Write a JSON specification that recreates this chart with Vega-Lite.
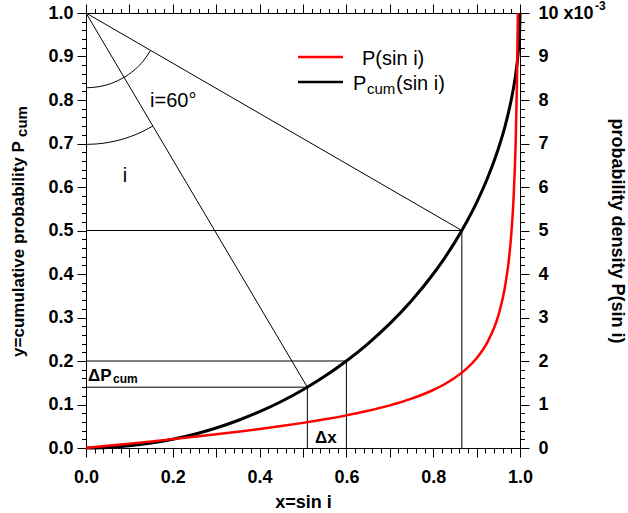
{
  "$schema": "https://vega.github.io/schema/vega-lite/v6.json",
  "width": 434,
  "height": 435,
  "autosize": {"type": "none"},
  "padding": {"left": 86, "top": 13, "right": 108, "bottom": 65},
  "config": {
    "view": {"stroke": null},
    "font": "Liberation Sans",
    "axis": {
      "grid": false,
      "domainColor": "#000000",
      "tickColor": "#000000",
      "labelColor": "#000000",
      "titleColor": "#000000",
      "labelFont": "Liberation Sans",
      "labelFontSize": 18,
      "labelFontWeight": "bold",
      "titleFont": "Liberation Sans",
      "titleFontSize": 18,
      "titleFontWeight": "bold",
      "domainWidth": 1,
      "tickWidth": 1,
      "labelFlush": false,
      "labelOverlap": false
    }
  },
  "datasets": {
    "cum": [
      {"x": 0, "c": 0}, {"x": 0.05, "c": 0.00125}, {"x": 0.1, "c": 0.00501}, {"x": 0.15, "c": 0.01131},
      {"x": 0.2, "c": 0.0202}, {"x": 0.25, "c": 0.03175}, {"x": 0.3, "c": 0.04606}, {"x": 0.35, "c": 0.06325},
      {"x": 0.4, "c": 0.08348}, {"x": 0.45, "c": 0.10697}, {"x": 0.5, "c": 0.13397}, {"x": 0.55, "c": 0.16484},
      {"x": 0.6, "c": 0.2}, {"x": 0.65, "c": 0.24007}, {"x": 0.7, "c": 0.28586}, {"x": 0.75, "c": 0.33856},
      {"x": 0.8, "c": 0.4}, {"x": 0.825, "c": 0.43487}, {"x": 0.85, "c": 0.47322}, {"x": 0.875, "c": 0.51588},
      {"x": 0.9, "c": 0.56411}, {"x": 0.925, "c": 0.62003}, {"x": 0.95, "c": 0.68775}, {"x": 0.965, "c": 0.73775},
      {"x": 0.98, "c": 0.801}, {"x": 0.99, "c": 0.85893}, {"x": 0.995, "c": 0.90013}, {"x": 0.998, "c": 0.93679},
      {"x": 0.9995, "c": 0.96838}, {"x": 1, "c": 1}
    ],
    "red": [
      {"x": 0, "p": 0}, {"x": 0.05, "p": 0.05006}, {"x": 0.1, "p": 0.1005}, {"x": 0.15, "p": 0.15172},
      {"x": 0.2, "p": 0.20412}, {"x": 0.25, "p": 0.2582}, {"x": 0.3, "p": 0.31449}, {"x": 0.35, "p": 0.37363},
      {"x": 0.4, "p": 0.43644}, {"x": 0.45, "p": 0.5039}, {"x": 0.5, "p": 0.57735}, {"x": 0.55, "p": 0.65855},
      {"x": 0.6, "p": 0.75}, {"x": 0.65, "p": 0.85534}, {"x": 0.7, "p": 0.9802}, {"x": 0.75, "p": 1.13389},
      {"x": 0.8, "p": 1.33333}, {"x": 0.825, "p": 1.45984}, {"x": 0.85, "p": 1.61358}, {"x": 0.875, "p": 1.8074},
      {"x": 0.9, "p": 2.06474}, {"x": 0.925, "p": 2.43442}, {"x": 0.95, "p": 3.04243}, {"x": 0.965, "p": 3.6797},
      {"x": 0.975, "p": 4.38784}, {"x": 0.98, "p": 4.9247}, {"x": 0.985, "p": 5.70836}, {"x": 0.99, "p": 7.01779},
      {"x": 0.993, "p": 8.40712}, {"x": 0.995, "p": 9.96246}, {"x": 0.99504, "p": 10.0}
    ],
    "segs": [
      {"x1": 0, "y1": 1, "x2": 0.866, "y2": 0.5},
      {"x1": 0, "y1": 1, "x2": 0.51, "y2": 0.1398},
      {"x1": 0, "y1": 0.5, "x2": 0.866, "y2": 0.5},
      {"x1": 0, "y1": 0.2, "x2": 0.6, "y2": 0.2},
      {"x1": 0, "y1": 0.1398, "x2": 0.51, "y2": 0.1398},
      {"x1": 0.51, "y1": 0, "x2": 0.51, "y2": 0.1398},
      {"x1": 0.6, "y1": 0, "x2": 0.6, "y2": 0.2},
      {"x1": 0.866, "y1": 0, "x2": 0.866, "y2": 0.5}
    ],
    "arcs": [
      {"arc": "a", "x": 0, "y": 0.828}, {"arc": "a", "x": 0.02986, "y": 0.83061}, {"arc": "a", "x": 0.05882, "y": 0.83837},
      {"arc": "a", "x": 0.086, "y": 0.85105}, {"arc": "a", "x": 0.11056, "y": 0.86825}, {"arc": "a", "x": 0.13175, "y": 0.88944},
      {"arc": "a", "x": 0.14895, "y": 0.914},
      {"arc": "b", "x": 0, "y": 0.698}, {"arc": "b", "x": 0.02632, "y": 0.69915}, {"arc": "b", "x": 0.05244, "y": 0.70259},
      {"arc": "b", "x": 0.07816, "y": 0.70829}, {"arc": "b", "x": 0.10329, "y": 0.71621}, {"arc": "b", "x": 0.12763, "y": 0.72629},
      {"arc": "b", "x": 0.15418, "y": 0.74033}
    ],
    "txt20": [
      {"x": 0.1475, "y": 0.784, "t": "i=60°"},
      {"x": 0.0848, "y": 0.6115, "t": "i"},
      {"x": 0.636, "y": 0.8805, "t": "P(sin i)"},
      {"x": 0.6152, "y": 0.823, "t": "P"},
      {"x": 0.7143, "y": 0.823, "t": "(sin i)"}
    ],
    "txt14": [{"x": 0.6475, "y": 0.8138, "t": "cum"}],
    "bold17": [
      {"x": 0.0046, "y": 0.154, "t": "ΔP"},
      {"x": 0.5276, "y": 0.0115, "t": "Δx"}
    ],
    "bold12": [{"x": 0.0622, "y": 0.1487, "t": "cum"}],
    "sup": [{"x": 1, "y": 10, "t": "-3"}],
    "leg": [
      {"x1": 0.4885, "x2": 0.5922, "y": 0.8989, "s": "P"},
      {"x1": 0.4885, "x2": 0.5922, "y": 0.8414, "s": "Pcum"}
    ]
  },
  "resolve": {
    "scale": {"x": "shared", "y": "independent"},
    "axis": {"x": "independent", "y": "independent"}
  },
  "layer": [
    {
      "data": {"name": "cum"},
      "mark": {"type": "line", "color": "#000000", "strokeWidth": 3, "interpolate": "monotone"},
      "encoding": {
        "x": {"field": "x", "type": "quantitative", "scale": {"domain": [0, 1], "nice": false, "zero": false},
          "axis": {"orient": "bottom", "values": [0, 0.1, 0.2, 0.3, 0.4, 0.5, 0.6, 0.7, 0.8, 0.9, 1], "format": ".1f",
            "labelExpr": "round(datum.value*10) % 2 == 0 ? datum.label : ''",
            "tickSize": 9, "labelPadding": 11, "title": "x=sin i", "titlePadding": 7}},
        "y": {"field": "c", "type": "quantitative", "scale": {"domain": [0, 1], "nice": false, "zero": false},
          "axis": {"orient": "left", "values": [0, 0.1, 0.2, 0.3, 0.4, 0.5, 0.6, 0.7, 0.8, 0.9, 1], "format": ".1f",
            "tickSize": 9, "labelPadding": 4, "title": "y=cumulative probability P", "titleFontSize": 17,
            "titleX": -63, "titleY": 235.5, "titleBaseline": "alphabetic", "titleAngle": 270, "titleAlign": "center"}}
      }
    },
    {
      "data": {"name": "segs"},
      "mark": {"type": "rule", "color": "#000000", "strokeWidth": 1},
      "encoding": {
        "x": {"field": "x1", "type": "quantitative", "scale": {"domain": [0, 1], "nice": false, "zero": false},
          "axis": {"orient": "bottom", "values": [0,0.02,0.04,0.06,0.08,0.1,0.12,0.14,0.16,0.18,0.2,0.22,0.24,0.26,0.28,0.3,0.32,0.34,0.36,0.38,0.4,0.42,0.44,0.46,0.48,0.5,0.52,0.54,0.56,0.58,0.6,0.62,0.64,0.66,0.68,0.7,0.72,0.74,0.76,0.78,0.8,0.82,0.84,0.86,0.88,0.9,0.92,0.94,0.96,0.98,1],
            "tickSize": 5, "labels": false, "domain": false, "title": null}},
        "x2": {"field": "x2"},
        "y": {"field": "y1", "type": "quantitative", "scale": {"domain": [0, 1], "nice": false, "zero": false},
          "axis": {"orient": "left", "values": [0,0.02,0.04,0.06,0.08,0.1,0.12,0.14,0.16,0.18,0.2,0.22,0.24,0.26,0.28,0.3,0.32,0.34,0.36,0.38,0.4,0.42,0.44,0.46,0.48,0.5,0.52,0.54,0.56,0.58,0.6,0.62,0.64,0.66,0.68,0.7,0.72,0.74,0.76,0.78,0.8,0.82,0.84,0.86,0.88,0.9,0.92,0.94,0.96,0.98,1],
            "tickSize": 4.5, "labels": false, "domain": false, "title": "cum", "titleFontSize": 15,
            "titleX": -60, "titleY": 108, "titleBaseline": "alphabetic", "titleAngle": 270, "titleAlign": "center"}},
        "y2": {"field": "y2"}
      }
    },
    {
      "data": {"name": "arcs"},
      "mark": {"type": "line", "color": "#000000", "strokeWidth": 1, "interpolate": "monotone"},
      "encoding": {
        "x": {"field": "x", "type": "quantitative", "scale": {"domain": [0, 1], "nice": false, "zero": false},
          "axis": {"orient": "top", "values": [0, 0.1, 0.2, 0.3, 0.4, 0.5, 0.6, 0.7, 0.8, 0.9, 1], "tickSize": 9, "labels": false, "title": null}},
        "y": {"field": "y", "type": "quantitative", "scale": {"domain": [0, 1], "nice": false, "zero": false}, "axis": null},
        "detail": {"field": "arc", "type": "nominal"}
      }
    },
    {
      "data": {"name": "txt20"},
      "mark": {"type": "text", "font": "Liberation Sans", "fontSize": 20, "align": "left", "baseline": "alphabetic", "color": "#000000"},
      "encoding": {
        "x": {"field": "x", "type": "quantitative", "scale": {"domain": [0, 1], "nice": false, "zero": false},
          "axis": {"orient": "top", "values": [0,0.02,0.04,0.06,0.08,0.1,0.12,0.14,0.16,0.18,0.2,0.22,0.24,0.26,0.28,0.3,0.32,0.34,0.36,0.38,0.4,0.42,0.44,0.46,0.48,0.5,0.52,0.54,0.56,0.58,0.6,0.62,0.64,0.66,0.68,0.7,0.72,0.74,0.76,0.78,0.8,0.82,0.84,0.86,0.88,0.9,0.92,0.94,0.96,0.98,1],
            "tickSize": 4.5, "labels": false, "domain": false, "title": null}},
        "y": {"field": "y", "type": "quantitative", "scale": {"domain": [0, 1], "nice": false, "zero": false}, "axis": null},
        "text": {"field": "t"}
      }
    },
    {
      "data": {"name": "red"},
      "mark": {"type": "line", "color": "#ff0000", "strokeWidth": 2.5, "interpolate": "monotone"},
      "encoding": {
        "x": {"field": "x", "type": "quantitative", "scale": {"domain": [0, 1], "nice": false, "zero": false}, "axis": null},
        "y": {"field": "p", "type": "quantitative", "scale": {"domain": [0, 10], "nice": false, "zero": false},
          "axis": {"orient": "right", "values": [0, 1, 2, 3, 4, 5, 6, 7, 8, 9, 10], "format": "d",
            "labelExpr": "datum.value == 10 ? '10 x10' : datum.label",
            "tickSize": 9, "labelPadding": 9, "title": "probability density P(sin i)", "titlePadding": 14}}
      }
    },
    {
      "data": {"name": "sup"},
      "mark": {"type": "text", "font": "Liberation Sans", "fontSize": 12, "fontWeight": "bold", "align": "left", "baseline": "middle", "dx": 75, "dy": -7, "color": "#000000"},
      "encoding": {
        "x": {"field": "x", "type": "quantitative", "scale": {"domain": [0, 1], "nice": false, "zero": false}, "axis": null},
        "y": {"field": "y", "type": "quantitative", "scale": {"domain": [0, 10], "nice": false, "zero": false},
          "axis": {"orient": "right", "values": [0,0.2,0.4,0.6,0.8,1,1.2,1.4,1.6,1.8,2,2.2,2.4,2.6,2.8,3,3.2,3.4,3.6,3.8,4,4.2,4.4,4.6,4.8,5,5.2,5.4,5.6,5.8,6,6.2,6.4,6.6,6.8,7,7.2,7.4,7.6,7.8,8,8.2,8.4,8.6,8.8,9,9.2,9.4,9.6,9.8,10],
            "tickSize": 4.5, "labels": false, "domain": false, "title": null}},
        "text": {"field": "t"}
      }
    },
    {
      "data": {"name": "leg"},
      "mark": {"type": "rule", "strokeWidth": 2.5},
      "encoding": {
        "x": {"field": "x1", "type": "quantitative", "scale": {"domain": [0, 1], "nice": false, "zero": false}, "axis": null},
        "x2": {"field": "x2"},
        "y": {"field": "y", "type": "quantitative", "scale": {"domain": [0, 1], "nice": false, "zero": false}, "axis": null},
        "color": {"field": "s", "type": "nominal", "scale": {"domain": ["P", "Pcum"], "range": ["#ff0000", "#000000"]}, "legend": null}
      }
    },
    {
      "data": {"name": "txt14"},
      "mark": {"type": "text", "font": "Liberation Sans", "fontSize": 15, "align": "left", "baseline": "alphabetic", "color": "#000000"},
      "encoding": {
        "x": {"field": "x", "type": "quantitative", "scale": {"domain": [0, 1], "nice": false, "zero": false}, "axis": null},
        "y": {"field": "y", "type": "quantitative", "scale": {"domain": [0, 1], "nice": false, "zero": false}, "axis": null},
        "text": {"field": "t"}
      }
    },
    {
      "data": {"name": "bold17"},
      "mark": {"type": "text", "font": "Liberation Sans", "fontSize": 17, "fontWeight": "bold", "align": "left", "baseline": "alphabetic", "color": "#000000"},
      "encoding": {
        "x": {"field": "x", "type": "quantitative", "scale": {"domain": [0, 1], "nice": false, "zero": false}, "axis": null},
        "y": {"field": "y", "type": "quantitative", "scale": {"domain": [0, 1], "nice": false, "zero": false}, "axis": null},
        "text": {"field": "t"}
      }
    },
    {
      "data": {"name": "bold12"},
      "mark": {"type": "text", "font": "Liberation Sans", "fontSize": 12, "fontWeight": "bold", "align": "left", "baseline": "alphabetic", "color": "#000000"},
      "encoding": {
        "x": {"field": "x", "type": "quantitative", "scale": {"domain": [0, 1], "nice": false, "zero": false}, "axis": null},
        "y": {"field": "y", "type": "quantitative", "scale": {"domain": [0, 1], "nice": false, "zero": false}, "axis": null},
        "text": {"field": "t"}
      }
    }
  ]
}
